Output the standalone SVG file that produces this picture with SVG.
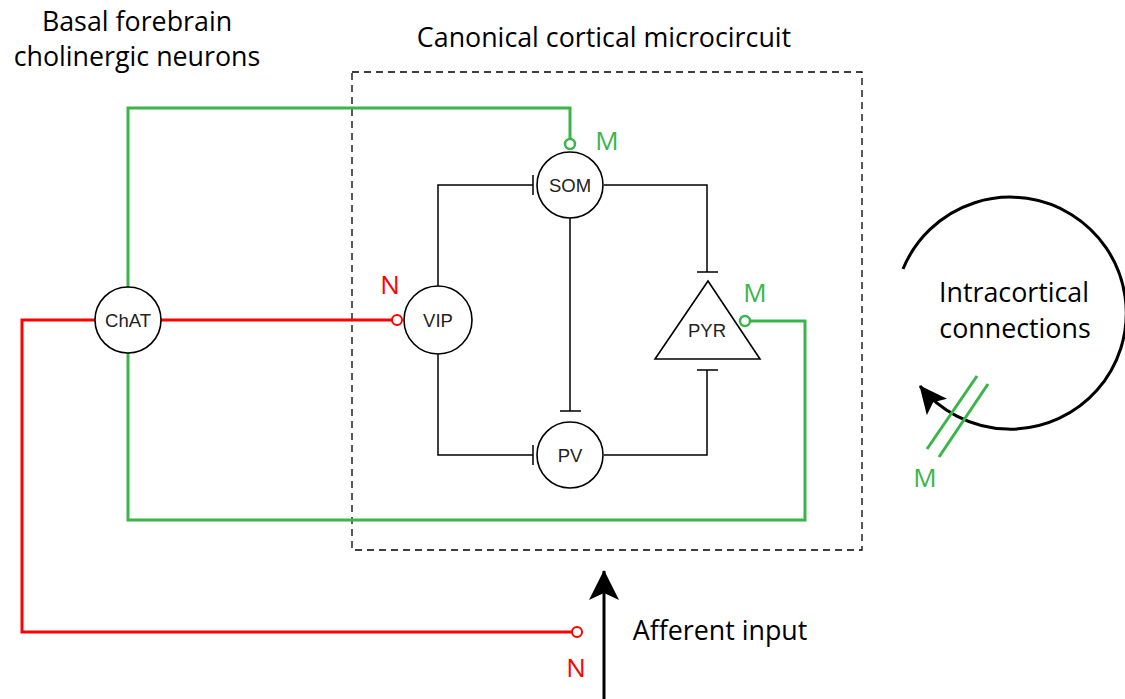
<svg xmlns="http://www.w3.org/2000/svg" width="1125" height="699" viewBox="0 0 1125 699">
<defs>
<style>
.node circle, .node path { fill: #fff; stroke: #000; stroke-width: 1.6; }
.nl { font-family: "Liberation Sans", Arial, sans-serif; font-size: 18.5px; text-anchor: middle; fill: #222; }
.lab { font-family: "Open Sans", "Liberation Sans", sans-serif; font-size: 26.8px; text-anchor: middle; fill: #000; }
.inh { fill: none; stroke: #000; stroke-width: 1.5; }
.g { fill: none; stroke: #3ab54a; stroke-width: 3; }
.r { fill: none; stroke: #ff0000; stroke-width: 3; }
.gt { fill: #fff; stroke: #3ab54a; stroke-width: 2.5; }
.rt { fill: #fff; stroke: #ff0000; stroke-width: 2; }
.gl { font-family: "Open Sans", "Liberation Sans", sans-serif; font-size: 26px; fill: #3ab54a; text-anchor: middle; }
.rl { font-family: "Open Sans", "Liberation Sans", sans-serif; font-size: 26px; fill: #ff0000; text-anchor: middle; }
</style>
<marker id="ah" markerWidth="30" markerHeight="30" viewBox="0 0 30 30" refX="29" refY="15" orient="auto" markerUnits="userSpaceOnUse">
<path d="M0 0 L30 15 L0 30 L7 15 Z" fill="#000"/>
</marker>
<marker id="ah2" markerWidth="28" markerHeight="26" viewBox="0 0 28 26" refX="27" refY="13" orient="auto" markerUnits="userSpaceOnUse">
<path d="M0 0 L28 13 L0 26 L6 13 Z" fill="#000"/>
</marker>
</defs>
<rect x="352" y="72" width="510" height="478" fill="none" stroke="#000" stroke-width="1.3" stroke-dasharray="7,5"/>
<g id="titles">
<text class="lab" x="137" y="31">Basal forebrain</text>
<text class="lab" x="137" y="66">cholinergic neurons</text>
<text class="lab" x="604" y="47">Canonical cortical microcircuit</text>
<text class="lab" x="1014" y="302">Intracortical</text>
<text class="lab" x="1015" y="338">connections</text>
<text class="lab" x="720" y="640">Afferent input</text>
</g>
<g id="connectors">
<path class="inh" d="M438 286 V185 H533 M533 175 V195"/>
<path class="inh" d="M438 354 V455 H533 M533 445 V465"/>
<path class="inh" d="M604 185 H707 V272 M697 272 H718"/>
<path class="inh" d="M604 455 H707 V370 M697 370 H718"/>
<path class="inh" d="M570 218 V411 M560 411 H581"/>
<path class="g" d="M128 287 V108 H570 V139"/>
<circle class="gt" cx="570" cy="144" r="5"/>
<path class="g" d="M750 321 H805 V520 H128 V353"/>
<circle class="gt" cx="745" cy="321" r="5"/>
<path class="r" d="M161 320 H392"/>
<circle class="rt" cx="397" cy="320" r="5"/>
<path class="r" d="M95 320 H22 V632 H572"/>
<circle class="rt" cx="577" cy="632" r="5"/>
<path d="M604 699 V571" stroke="#000" stroke-width="3" fill="none" marker-end="url(#ah)"/>
<path d="M903 269 A116 116 0 1 1 920 386" stroke="#000" stroke-width="3" fill="none" marker-end="url(#ah2)"/>
<line x1="977" y1="376" x2="927" y2="449" stroke="#3ab54a" stroke-width="3"/>
<line x1="988" y1="384" x2="939" y2="457" stroke="#3ab54a" stroke-width="3"/>
</g>
<g id="labels">
<text class="gl" x="607" y="150">M</text>
<text class="gl" x="755" y="302">M</text>
<text class="gl" x="925" y="487">M</text>
<text class="rl" x="390" y="294">N</text>
<text class="rl" x="576" y="677">N</text>
</g>
<g id="ChAT" class="node"><circle cx="128" cy="320" r="33"/><text class="nl" x="128" y="326.5">ChAT</text></g>
<g id="VIP" class="node"><circle cx="438" cy="320" r="34"/><text class="nl" x="438" y="326.5">VIP</text></g>
<g id="SOM" class="node"><circle cx="570" cy="185" r="33"/><text class="nl" x="570" y="191.5">SOM</text></g>
<g id="PV" class="node"><circle cx="570" cy="455" r="33"/><text class="nl" x="570" y="461.5">PV</text></g>
<g id="PYR" class="node"><path d="M708 281 L760 359 L655 359 Z"/><text class="nl" x="707" y="337">PYR</text></g>
</svg>
